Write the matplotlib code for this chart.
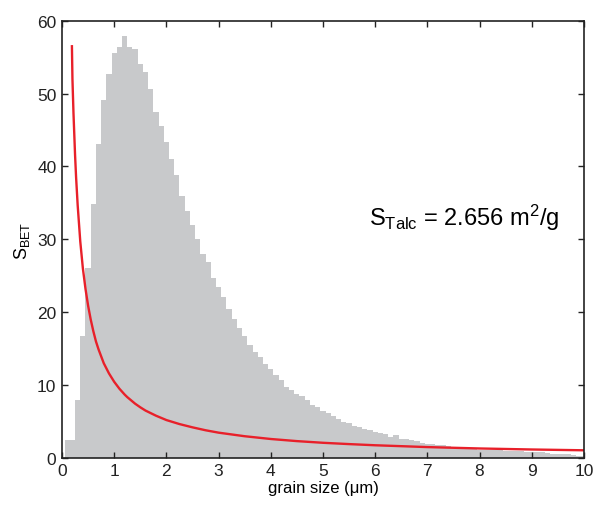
import numpy as np
import matplotlib
matplotlib.use('Agg')
import matplotlib.pyplot as plt

plt.rcParams['font.family'] = ['Liberation Sans', 'DejaVu Sans']
plt.rcParams['mathtext.fontset'] = 'custom'
plt.rcParams['mathtext.rm'] = 'Liberation Sans'
plt.rcParams['mathtext.it'] = 'Liberation Sans:italic'

# histogram of grain sizes, bins 0.1 um wide centred on 0.1, 0.2, ..., 10.0
bin_width = 0.1
bin_centers = np.round(np.arange(1, 101) * bin_width, 1)
counts = [
    2.5, 2.5, 8.0, 16.7, 26.1, 34.9, 43.1, 49.1, 52.7, 55.6,
    56.4, 57.9, 56.4, 56.1, 54.0, 52.9, 50.6, 47.5, 45.6, 43.3,
    41.0, 38.8, 36.0, 33.9, 32.0, 30.1, 28.0, 26.9, 24.7, 23.4,
    22.1, 20.5, 19.1, 17.9, 16.8, 15.5, 14.6, 13.8, 12.9, 12.2,
    11.4, 10.7, 9.8, 9.3, 8.8, 8.5, 8.0, 7.3, 7.0, 6.4,
    6.2, 5.7, 5.4, 4.9, 4.8, 4.4, 4.2, 4.0, 3.8, 3.6,
    3.4, 3.3, 2.9, 3.1, 2.6, 2.6, 2.5, 2.3, 2.0, 1.9,
    1.9, 1.8, 1.75, 1.6, 1.55, 1.5, 1.3, 1.25, 1.2, 1.15,
    1.1, 1.1, 1.05, 1.05, 1.0, 1.0, 0.9, 0.9, 0.85, 0.8,
    0.8, 0.75, 0.65, 0.6, 0.6, 0.55, 0.55, 0.35, 0.3, 0.3,
]

# specific surface area vs grain size (red curve)
size_um = [0.19, 0.2, 0.22, 0.25, 0.27, 0.3, 0.35, 0.4, 0.45, 0.5,
           0.55, 0.6, 0.65, 0.7, 0.8, 0.9, 1.0, 1.1, 1.2, 1.25,
           1.4, 1.5, 1.6, 1.8, 2.0, 2.25, 2.5, 2.75, 3.0, 3.5,
           4.0, 4.5, 5.0, 5.5, 6.0, 7.0, 8.0, 9.0, 10.0]
s_bet = [56.5, 52.0, 47.3, 41.6, 38.5, 34.7, 29.7, 26.0, 23.2, 20.9,
         19.0, 17.4, 16.0, 14.9, 13.0, 11.6, 10.45, 9.5, 8.7, 8.35,
         7.45, 6.95, 6.5, 5.8, 5.2, 4.65, 4.2, 3.8, 3.47, 2.98,
         2.6, 2.31, 2.08, 1.9, 1.74, 1.49, 1.3, 1.16, 1.05]

fig = plt.figure(figsize=(6.02, 5.06), dpi=100)
ax = fig.add_axes([0.103, 0.093, 0.867, 0.864])

ax.bar(bin_centers, counts, width=bin_width, color='#c8c9cb', linewidth=0)
ax.plot(size_um, s_bet, color='#e8202a', lw=1.7)

ax.set_xlim(0, 10)
ax.set_ylim(0, 60)
ax.set_xticks(range(0, 11))
ax.set_yticks(range(0, 61, 10))
ax.tick_params(direction='in', top=True, right=True, length=4, width=1,
               labelsize=12.5, pad=4, colors='#222222')
for sp in ax.spines.values():
    sp.set_linewidth(1.2)
    sp.set_color('#222222')

ax.set_xlabel('grain size (μm)', fontsize=12, labelpad=1)
ax.set_ylabel(r'S$_{\mathrm{BET}}$', fontsize=13, labelpad=4)

ax.text(5.88, 32, r'S$_{\mathrm{Talc}}$ = 2.656 m$^{2}$/g', fontsize=17,
        ha='left', va='baseline')

fig.savefig('out.png', dpi=100)
